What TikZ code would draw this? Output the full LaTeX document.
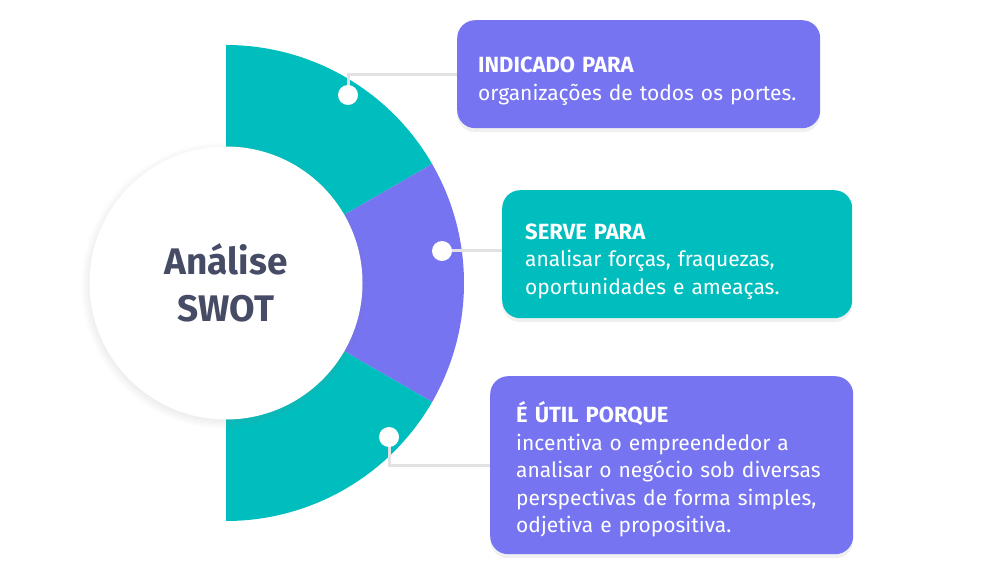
\documentclass[tikz,border=0pt]{standalone}
\usepackage{fontspec}
\setmainfont{Fira Sans}
\usepackage{xcolor}
\usepackage{tikz}
\usetikzlibrary{shadows}
\usetikzlibrary{calc}
\definecolor{swotteal}{RGB}{0,190,190}
\definecolor{swotpurple}{RGB}{118,116,240}
\definecolor{swotink}{RGB}{70,76,102}
\definecolor{swotline}{RGB}{226,226,229}
\newcommand{\swothead}[1]{\rule{0pt}{30pt}{\bfseries\fontsize{22}{27.5}\selectfont #1}}

\begin{document}
\begin{tikzpicture}[x=1pt, y=1pt,
	infobox/.style={rounded corners=18pt, anchor=north west, inner ysep=0pt, align=left, text=white, font=\fontsize{21}{27.5}\selectfont, drop shadow={opacity=0.12, shadow xshift=0pt, shadow yshift=-4pt}},
	pin/.style={circle, fill=white, inner sep=0pt, minimum size=20pt},
	link/.style={swotline, line width=3pt}]
	\useasboundingbox (0,0) rectangle (1000,576);
	\coordinate (c) at (226,293);
	\fill[swotteal] (c) -- ++(90:238) arc[start angle=90, end angle=30, radius=238] -- cycle;
	\fill[swotpurple] (c) -- ++(30:238) arc[start angle=30, end angle=-30, radius=238] -- cycle;
	\fill[swotteal] (c) -- ++(-30:238) arc[start angle=-30, end angle=-90, radius=238] -- cycle;
	\node[circle, fill=white, minimum size=273pt, inner sep=0pt, circular drop shadow={opacity=0.3, shadow scale=1.05, shadow xshift=-2pt, shadow yshift=-2pt}, text=swotink, font=\bfseries\fontsize{37}{47}\selectfont, align=center] (title) at (c) {Análise\\SWOT};

	\node[infobox, fill=swotpurple, inner xsep=21pt, text width=321pt, minimum height=108pt] (boxA) at (457,556)
		{\swothead{INDICADO PARA}\\organizações de todos os portes.};
	\node[infobox, fill=swotteal, inner xsep=23pt, text width=304pt, minimum height=128pt] (boxB) at (502,386)
		{\swothead{SERVE PARA}\\analisar forças, fraquezas,\\oportunidades e ameaças.};
	\node[infobox, fill=swotpurple, inner xsep=26pt, text width=311pt, minimum height=178pt] (boxC) at (490,200)
		{\swothead{É ÚTIL PORQUE}\\incentiva o empreendedor a\\analisar o negócio sob diversas\\perspectivas de forma simples,\\odjetiva e propositiva.};

	\coordinate (pinA) at (348,481);
	\coordinate (pinB) at (442,325);
	\coordinate (pinC) at (389,139);
	\draw[link] (pinA) |- (boxA.west);
	\draw[link] (pinB) -- (pinB -| boxB.west);
	\draw[link] (pinC) |- (boxC.west);
	\foreach \p in {A,B,C}
		\node[pin] (dot\p) at (pin\p) {};
\end{tikzpicture}
\end{document}
